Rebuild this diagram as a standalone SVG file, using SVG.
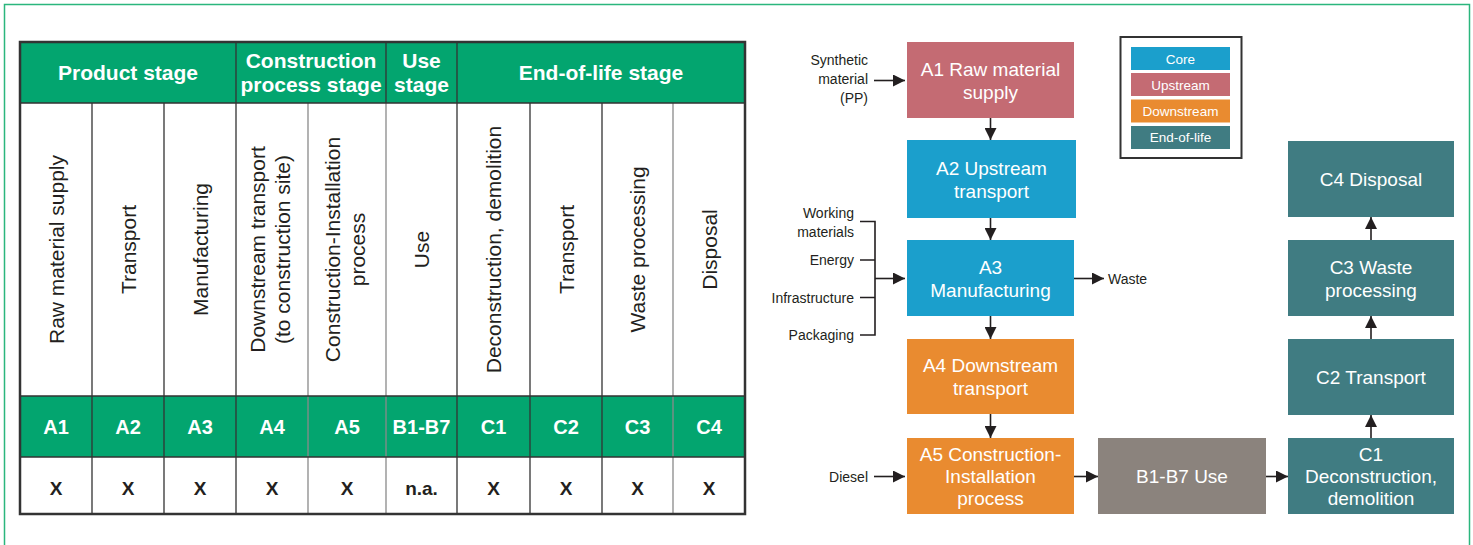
<svg xmlns="http://www.w3.org/2000/svg" width="1473" height="545" viewBox="0 0 1473 545">
<defs>
<style>
text { font-family: "Liberation Sans", Arial, sans-serif; }
.hdr { font-weight: bold; font-size: 21px; fill: #fff; text-anchor: middle; }
.cell { font-size: 21px; fill: #231f20; text-anchor: middle; }
.code { font-weight: bold; font-size: 20px; fill: #fff; text-anchor: middle; }
.mark { font-weight: bold; font-size: 19px; fill: #231f20; text-anchor: middle; }
.grn { fill: #03a56f; }
.tl { stroke: #333; stroke-width: 1.3; fill: none; }
.tl2 { stroke: #8a8a8a; stroke-width: 1.3; fill: none; }
.node text { font-size: 19px; fill: #fff; text-anchor: middle; }
.lbl { font-size: 14px; fill: #231f20; }
.leg { font-size: 13.5px; fill: #fff; text-anchor: middle; }
.core { fill: #1b9fcc; }
.up { fill: #c46b73; }
.down { fill: #e98b30; }
.eol { fill: #407c82; }
.use { fill: #8b837d; }
.conn { stroke: #231f20; stroke-width: 1.6; fill: none; }
.arr { marker-end: url(#ah); }
</style>
<marker id="ah" markerUnits="userSpaceOnUse" markerWidth="13" markerHeight="12" refX="12" refY="6" orient="auto">
<path d="M0,0 L12,6 L0,12 z" fill="#231f20"/>
</marker>
</defs>
<rect x="0" y="0" width="1473" height="545" fill="#fff"/>
<rect x="4.5" y="4.5" width="1465" height="560" fill="none" stroke="#2bb67d" stroke-width="1.5"/>

<g id="table">
<rect class="grn" x="20" y="42" width="725" height="61"/>
<rect class="grn" x="20" y="396" width="725" height="61"/>
<path class="tl" d="M236,42 V103 M386,42 V103 M457,42 V103"/>
<path class="tl" d="M92,103 V514 M164,103 V514 M236,103 V514 M457,103 V514 M530,103 V514 M602,103 V514"/>
<path class="tl2" d="M308,103 V514 M386,103 V514 M673,103 V514"/>
<path class="tl" d="M20,103 H745 M20,396 H745 M20,457 H745" stroke-width="1.6"/>
<rect x="20" y="42" width="725" height="472" fill="none" stroke="#333" stroke-width="2.5"/>

<text class="hdr" x="128" y="80">Product stage</text>
<text class="hdr" x="311" y="68">Construction</text>
<text class="hdr" x="311" y="92">process stage</text>
<text class="hdr" x="421.5" y="68">Use</text>
<text class="hdr" x="421.5" y="92">stage</text>
<text class="hdr" x="601" y="80">End-of-life stage</text>

<text class="cell" transform="translate(63.5,249.5) rotate(-90)">Raw material supply</text>
<text class="cell" transform="translate(135.5,249.5) rotate(-90)">Transport</text>
<text class="cell" transform="translate(207.5,249.5) rotate(-90)">Manufacturing</text>
<text class="cell" transform="translate(272,249.5) rotate(-90)"><tspan x="0" y="-7.5">Downstream transport</tspan><tspan x="0" y="17.5">(to construction site)</tspan></text>
<text class="cell" transform="translate(347,249.5) rotate(-90)"><tspan x="0" y="-7.5">Construction-Installation</tspan><tspan x="0" y="17.5">process</tspan></text>
<text class="cell" transform="translate(429,249.5) rotate(-90)">Use</text>
<text class="cell" transform="translate(501,249.5) rotate(-90)">Deconstruction, demolition</text>
<text class="cell" transform="translate(573.5,249.5) rotate(-90)">Transport</text>
<text class="cell" transform="translate(645,249.5) rotate(-90)">Waste processing</text>
<text class="cell" transform="translate(716.5,249.5) rotate(-90)">Disposal</text>

<text class="code" x="56" y="434">A1</text>
<text class="code" x="128" y="434">A2</text>
<text class="code" x="200" y="434">A3</text>
<text class="code" x="272" y="434">A4</text>
<text class="code" x="347" y="434">A5</text>
<text class="code" x="421.5" y="434">B1-B7</text>
<text class="code" x="493.5" y="434">C1</text>
<text class="code" x="566" y="434">C2</text>
<text class="code" x="637.5" y="434">C3</text>
<text class="code" x="709" y="434">C4</text>

<text class="mark" x="56" y="495">X</text>
<text class="mark" x="128" y="495">X</text>
<text class="mark" x="200" y="495">X</text>
<text class="mark" x="272" y="495">X</text>
<text class="mark" x="347" y="495">X</text>
<text class="mark" x="421.5" y="495">n.a.</text>
<text class="mark" x="493.5" y="495">X</text>
<text class="mark" x="566" y="495">X</text>
<text class="mark" x="637.5" y="495">X</text>
<text class="mark" x="709" y="495">X</text>
</g>

<g id="legend">
<rect x="1120.5" y="37" width="121" height="121" fill="#fff" stroke="#333" stroke-width="2"/>
<rect class="core" x="1131" y="47" width="99" height="23"/>
<rect class="up" x="1131" y="73" width="99" height="23"/>
<rect class="down" x="1131" y="99.5" width="99" height="23"/>
<rect class="eol" x="1131" y="126" width="99" height="23"/>
<text class="leg" x="1180.5" y="63.5">Core</text>
<text class="leg" x="1180.5" y="89.5">Upstream</text>
<text class="leg" x="1180.5" y="115.5">Downstream</text>
<text class="leg" x="1180.5" y="142">End-of-life</text>
</g>

<g id="inputs">
<text class="lbl" x="868" y="64.5" text-anchor="end">Synthetic</text>
<text class="lbl" x="868" y="84" text-anchor="end">material</text>
<text class="lbl" x="868" y="103" text-anchor="end">(PP)</text>
<text class="lbl" x="854" y="218" text-anchor="end">Working</text>
<text class="lbl" x="854" y="236.5" text-anchor="end">materials</text>
<text class="lbl" x="854" y="265" text-anchor="end">Energy</text>
<text class="lbl" x="854" y="302.5" text-anchor="end">Infrastructure</text>
<text class="lbl" x="854" y="340" text-anchor="end">Packaging</text>
<text class="lbl" x="1108" y="284">Waste</text>
<text class="lbl" x="868" y="482" text-anchor="end">Diesel</text>
</g>

<g id="node-A1" class="node">
<rect class="up" x="907" y="42" width="167" height="76"/>
<text x="990.5" y="75.5">A1 Raw material</text>
<text x="990.5" y="98.5">supply</text>
</g>
<g id="node-A2" class="node">
<rect class="core" x="907" y="140" width="169" height="78"/>
<text x="991.5" y="174.5">A2 Upstream</text>
<text x="991.5" y="197.5">transport</text>
</g>
<g id="node-A3" class="node">
<rect class="core" x="907" y="240" width="167" height="76"/>
<text x="990.5" y="273.5">A3</text>
<text x="990.5" y="296.5">Manufacturing</text>
</g>
<g id="node-A4" class="node">
<rect class="down" x="907" y="339" width="167" height="75"/>
<text x="990.5" y="372">A4 Downstream</text>
<text x="990.5" y="395">transport</text>
</g>
<g id="node-A5" class="node">
<rect class="down" x="907" y="438" width="167" height="76"/>
<text x="990.5" y="461">A5 Construction-</text>
<text x="990.5" y="483">Installation</text>
<text x="990.5" y="505">process</text>
</g>
<g id="node-B" class="node">
<rect class="use" x="1098" y="438" width="168" height="76"/>
<text x="1182" y="483">B1-B7 Use</text>
</g>
<g id="node-C1" class="node">
<rect class="eol" x="1288" y="438" width="166" height="76"/>
<text x="1371" y="461">C1</text>
<text x="1371" y="483">Deconstruction,</text>
<text x="1371" y="505">demolition</text>
</g>
<g id="node-C2" class="node">
<rect class="eol" x="1288" y="339" width="166" height="76"/>
<text x="1371" y="384">C2 Transport</text>
</g>
<g id="node-C3" class="node">
<rect class="eol" x="1288" y="240" width="166" height="76"/>
<text x="1371" y="273.5">C3 Waste</text>
<text x="1371" y="296.5">processing</text>
</g>
<g id="node-C4" class="node">
<rect class="eol" x="1288" y="141" width="166" height="76"/>
<text x="1371" y="186">C4 Disposal</text>
</g>

<g id="connectors">
<path class="conn arr" d="M990.5,118 V140"/>
<path class="conn arr" d="M990.5,218 V240"/>
<path class="conn arr" d="M990.5,316 V339"/>
<path class="conn arr" d="M990.5,414 V438"/>
<path class="conn arr" d="M1074,476.5 H1098"/>
<path class="conn arr" d="M1266,476.5 H1288"/>
<path class="conn arr" d="M1371,438 V415"/>
<path class="conn arr" d="M1371,339 V316"/>
<path class="conn arr" d="M1371,240 V217"/>
<path class="conn arr" d="M874,80.5 H905"/>
<path class="conn arr" d="M1074,278.5 H1104"/>
<path class="conn" d="M860,221.5 H875 V335 H860 M860,260 H875 M860,297.5 H875"/>
<path class="conn arr" d="M875,278.5 H905"/>
<path class="conn arr" d="M874,476.5 H905"/>
</g>
</svg>
